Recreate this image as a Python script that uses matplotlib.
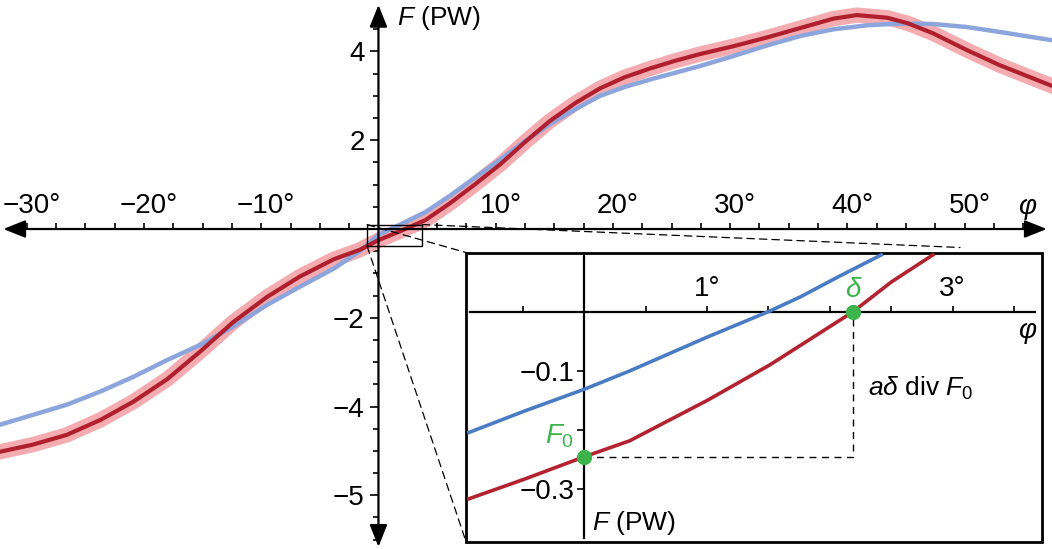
import matplotlib
matplotlib.use('Agg')
import matplotlib.pyplot as plt
import matplotlib.transforms as mtransforms
from matplotlib.patches import Rectangle, ConnectionPatch

plt.rcParams['font.family'] = ['Liberation Sans', 'DejaVu Sans']
plt.rcParams['mathtext.fontset'] = 'custom'
plt.rcParams['mathtext.rm'] = 'Liberation Sans'
plt.rcParams['mathtext.it'] = 'Liberation Sans:italic'

# main curves (phi in degrees, F in PW)
red_phi = [-32.3, -29.5, -26.6, -23.7, -20.9, -18.0, -15.2, -12.4, -9.5, -6.7, -3.8, -1.6, 0.0,
           1.85, 4.0, 6.1, 8.2, 10.4, 12.5, 14.6, 16.8, 18.9, 21.0, 23.2, 25.3, 27.4, 30.3,
           33.2, 36.0, 38.8, 40.8, 43.4, 45.1, 47.3, 50.2, 53.0, 57.3]
red_F = [-5.02, -4.86, -4.64, -4.30, -3.89, -3.38, -2.76, -2.10, -1.53, -1.07, -0.68, -0.47, -0.25,
         -0.05, 0.20, 0.58, 1.00, 1.46, 1.96, 2.43, 2.84, 3.17, 3.42, 3.62, 3.79, 3.94, 4.12,
         4.32, 4.53, 4.74, 4.82, 4.76, 4.64, 4.41, 4.03, 3.69, 3.24]
blue_phi = [-32.3, -29.5, -26.6, -23.7, -20.9, -18.0, -15.2, -12.4, -9.5, -6.7, -3.8, -1.6, 0.0,
            1.85, 4.0, 6.1, 8.2, 10.4, 12.5, 14.6, 16.8, 18.9, 21.0, 23.2, 25.3, 27.4, 30.3,
            33.2, 36.0, 38.8, 41.7, 44.5, 47.3, 50.2, 53.0, 57.3]
blue_F = [-4.41, -4.19, -3.96, -3.66, -3.33, -2.95, -2.61, -2.20, -1.71, -1.30, -0.89, -0.50, -0.13,
          0.10, 0.38, 0.75, 1.15, 1.57, 1.98, 2.36, 2.70, 3.00, 3.20, 3.37, 3.52, 3.67, 3.90,
          4.14, 4.35, 4.50, 4.59, 4.63, 4.62, 4.55, 4.44, 4.26]

# zoomed region
zoom_blue_phi = [-0.94, -0.49, 0.0, 0.37, 1.0, 1.51, 1.76, 2.07, 2.42]
zoom_blue_F = [-0.204, -0.168, -0.131, -0.100, -0.043, 0.001, 0.025, 0.059, 0.096]
zoom_red_phi = [-0.94, -0.49, 0.0, 0.37, 1.0, 1.51, 1.76, 2.19, 2.5, 2.84]
zoom_red_F = [-0.316, -0.283, -0.245, -0.218, -0.150, -0.090, -0.057, 0.0, 0.050, 0.096]
F0 = -0.245
delta = 2.19

# ticks
x_major = [-30, -20, -10, 10, 20, 30, 40, 50]
x_labels = ['\u221230\u00b0', '\u221220\u00b0', '\u221210\u00b0', '10\u00b0', '20\u00b0',
            '30\u00b0', '40\u00b0', '50\u00b0']
x_minor = [v / 2 for v in range(-60, 111, 5) if v != 0 and v % 20 != 0]
y_major = [4, 2, -2, -4, -6]
y_labels = ['4', '2', '\u22122', '\u22124', '\u22125']
y_minor = [v / 2 for v in range(-14, 10) if v != 0 and v / 2 not in y_major]
zx_major = [1, 3]
zx_labels = ['1\u00b0', '3\u00b0']
zx_minor = [-0.5, 0.5, 1.5, 2, 2.5, 3.5]
zy_major = [-0.1, -0.3]
zy_labels = ['\u22120.1', '\u22120.3']
zy_minor = [-0.2]

green = '#3cb44b'

fig = plt.figure(figsize=(10.52, 5.49), dpi=100)
ax = fig.add_axes([0, 0, 1, 1])
ax.set_xlim(-32.28, 57.45)
ax.set_ylim(-7.21, 5.16)

# curves
ax.plot(red_phi, red_F, color='#f4a3a8', lw=11, alpha=0.9, solid_joinstyle='round', zorder=2)
ax.plot(blue_phi, blue_F, color='#8ca5dc', lw=3.2, solid_joinstyle='round', zorder=3)
ax.plot(red_phi, red_F, color='#b01f2d', lw=3, solid_joinstyle='round', zorder=4)

# axes through the origin
for s in ['right', 'bottom']:
    ax.spines[s].set_visible(False)
for s in ['top', 'left']:
    ax.spines[s].set_position(('data', 0))
    ax.spines[s].set_visible(False)
ax.xaxis.set_ticks_position('top')
ax.yaxis.set_ticks_position('left')
ax.set_xticks(x_major, x_labels)
ax.set_xticks(x_minor, minor=True)
ax.set_yticks(y_major, y_labels)
ax.set_yticks(y_minor, minor=True)
ax.tick_params(axis='x', which='both', direction='out', length=4, width=1.2, pad=3, labelsize=20)
ax.tick_params(axis='y', which='major', direction='out', length=6, width=1.2, pad=4, labelsize=20)
ax.tick_params(axis='y', which='minor', direction='out', length=3.5, width=1.2)
shift = mtransforms.ScaledTranslation(5 / 100, 0, fig.dpi_scale_trans)
for lab in ax.get_xticklabels():
    lab.set_transform(lab.get_transform() + shift)

arrow = dict(arrowstyle='<|-|>,head_length=0.75,head_width=0.3', lw=1.6, color='black',
             shrinkA=0, shrinkB=0, mutation_scale=18)
ax.annotate('', xy=(57.0, 0), xytext=(-32.0, 0), arrowprops=arrow, zorder=6)
ax.annotate('', xy=(0, 5.05), xytext=(0, -7.16), arrowprops=arrow, zorder=6)

ax.text(1.57, 4.75, r'$F$ (PW)', fontsize=19, va='center', ha='left')
ax.text(55.3, 0.5, '\u03c6', fontsize=20, style='italic', ha='center', va='center')

# zoom box
zx_lim = (-0.964, 3.729)
zy_lim = (-0.3885, 0.1)
ax.add_patch(Rectangle((zx_lim[0], zy_lim[0]), zx_lim[1] - zx_lim[0], zy_lim[1] - zy_lim[0],
                       fill=False, ec='black', lw=1, zorder=7))

# inset
ins = fig.add_axes([466 / 1052, 7.3 / 549, 576 / 1052, 289.2 / 549])
ins.set_xlim(*zx_lim)
ins.set_ylim(*zy_lim)
ins.patch.set_edgecolor('black')
ins.patch.set_linewidth(2)
for s in ['right', 'bottom']:
    ins.spines[s].set_visible(False)
ins.spines['top'].set_position(('data', 0))
ins.spines['top'].set_bounds(-0.93, 3.675)
ins.spines['left'].set_position(('data', 0))
ins.spines['left'].set_bounds(-0.382, 0.094)
for s in ['top', 'left']:
    ins.spines[s].set_linewidth(1.6)
ins.xaxis.set_ticks_position('top')
ins.yaxis.set_ticks_position('left')
ins.set_xticks(zx_major, zx_labels)
ins.set_xticks(zx_minor, minor=True)
ins.set_yticks(zy_major, zy_labels)
ins.set_yticks(zy_minor, minor=True)
ins.tick_params(axis='x', which='both', direction='out', length=4, width=1.2, pad=3, labelsize=20)
ins.tick_params(axis='y', which='both', direction='out', length=5, width=1.2, pad=2, labelsize=20)

ins.plot(zoom_blue_phi, zoom_blue_F, color='#4a7cc4', lw=2.6, solid_joinstyle='round', zorder=3)
ins.plot(zoom_red_phi, zoom_red_F, color='#b2222f', lw=2.6, solid_joinstyle='round', zorder=3)
ins.plot([0, delta, delta], [F0, F0, 0], color='black', lw=1, dashes=(5, 4), zorder=2)
ins.plot([0, delta], [F0, 0], 'o', color=green, ms=10, zorder=5)
ins.text(delta, 0.037, '\u03b4', color=green, fontsize=20, style='italic', ha='center', va='center')
ins.text(-0.2, -0.21, r'$F_0$', color=green, fontsize=20, ha='center', va='center')
ins.text(2.31, -0.129, r'$a\delta$ div $F_0$', fontsize=19, ha='left', va='center')
ins.text(0.063, -0.357, r'$F$ (PW)', fontsize=19, ha='left', va='center')
ins.text(3.61, -0.033, '\u03c6', fontsize=20, style='italic', ha='center', va='center')

# connector lines
for xyA, xyB in [((zx_lim[0], zy_lim[1]), (0, 1)),
                 ((zx_lim[1], zy_lim[1]), (494 / 576, 1 + 5 / 289.2)),
                 ((zx_lim[0], zy_lim[0]), (0, 0))]:
    con = ConnectionPatch(xyA=xyA, coordsA=ax.transData, xyB=xyB, coordsB=ins.transAxes,
                          color='black', lw=0.9, linestyle=(0, (6, 4)))
    fig.add_artist(con)

fig.savefig('out.png', dpi=100)
